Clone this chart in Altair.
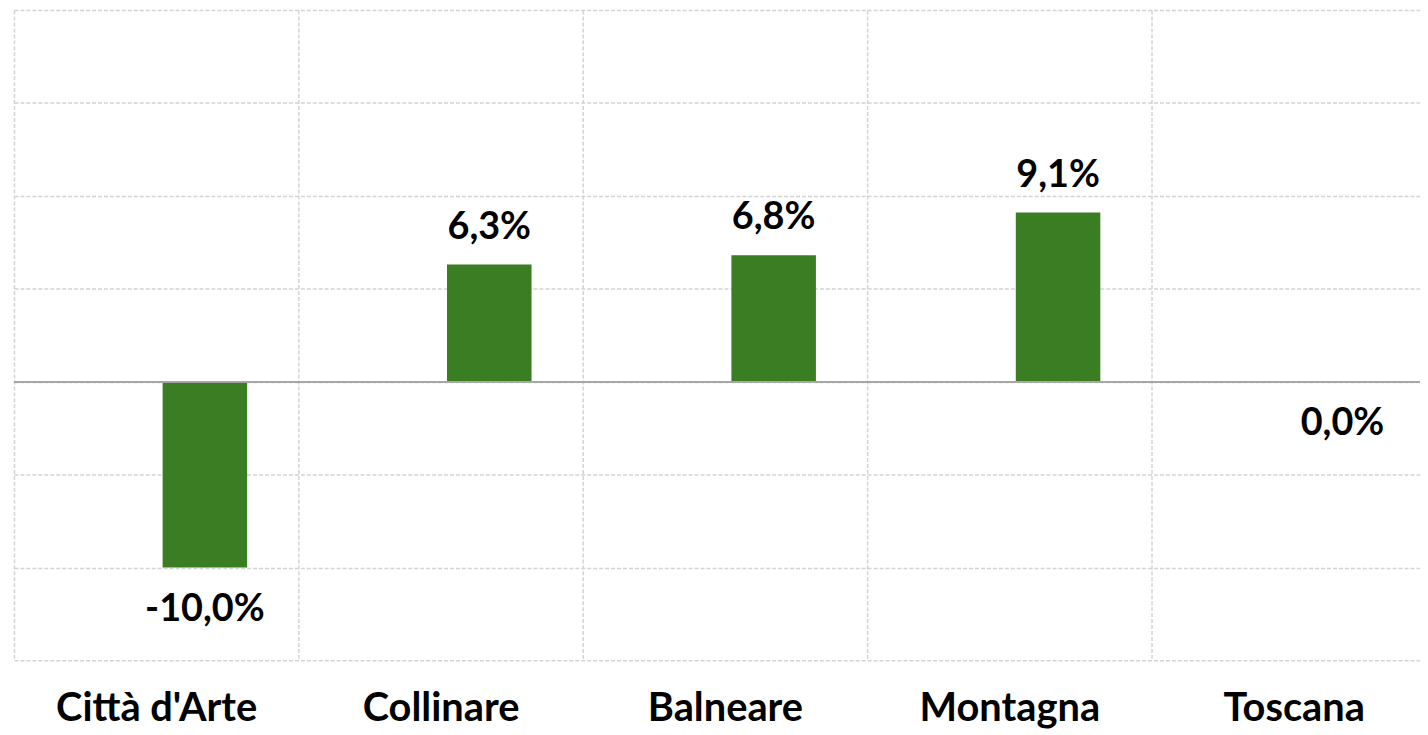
import altair as alt
import pandas as pd

categories = ["Città d'Arte", "Collinare", "Balneare", "Montagna", "Toscana"]
values = [-10.0, 6.3, 6.8, 9.1, 0.0]
labels = ["-10,0%", "6,3%", "6,8%", "9,1%", "0,0%"]
y_ticks = [-15, -10, -5, 0, 5, 10, 15, 20]

df = pd.DataFrame({"cat": categories, "v": values, "lbl": labels})

GREEN = "#3b7d23"
GRID = "#d4d4d4"
FONT = "Lato"

x_axis = alt.Axis(
    title=None, labelAngle=0, labelFont=FONT, labelFontSize=40,
    labelFontWeight="bold", labelColor="black", labelPadding=28, labelLimit=0,
    ticks=False, domain=False, grid=True, tickBand="extent",
    gridColor=GRID, gridDash=[4, 2], gridWidth=1.5,
)
y_axis = alt.Axis(
    title=None, labels=False, ticks=False, domain=False, values=y_ticks,
    grid=True, gridColor=GRID, gridDash=[4, 2], gridWidth=1.5,
)
x_scale = alt.Scale(paddingInner=0, paddingOuter=0)
y_scale = alt.Scale(domain=[-15, 20], nice=False, zero=False)

x = alt.X("cat:N", sort=categories, scale=x_scale, axis=x_axis)
y = alt.Y("v:Q", scale=y_scale, axis=y_axis)

base = alt.Chart(df)
bars = base.mark_bar(color=GREEN, size=85, xOffset=49).encode(x=x, y=y, y2=alt.datum(0))

zero = base.mark_rule(color="#a6a6a6", strokeWidth=1.5).encode(
    y=alt.Y(datum=0, scale=y_scale, axis=y_axis)
)

pos_text = base.transform_filter("datum.v > 0").mark_text(
    font=FONT, fontSize=38, fontWeight="bold", color="black",
    baseline="alphabetic", dx=49, dy=-26,
).encode(x=x, y=y, text="lbl:N")

neg_text = base.transform_filter("datum.v <= 0").mark_text(
    font=FONT, fontSize=38, fontWeight="bold", color="black",
    baseline="alphabetic", dx=49, dy=54,
).encode(x=x, y=y, text="lbl:N")

chart = (
    alt.layer(bars, zero, pos_text, neg_text)
    .properties(
        width=1430, height=654,
        padding={"left": 6, "top": 0, "right": -16, "bottom": 72},
        autosize="none",
    )
    .configure_view(stroke=None)
)

chart.save("out.html", embed_options={"renderer": "svg", "actions": False})
